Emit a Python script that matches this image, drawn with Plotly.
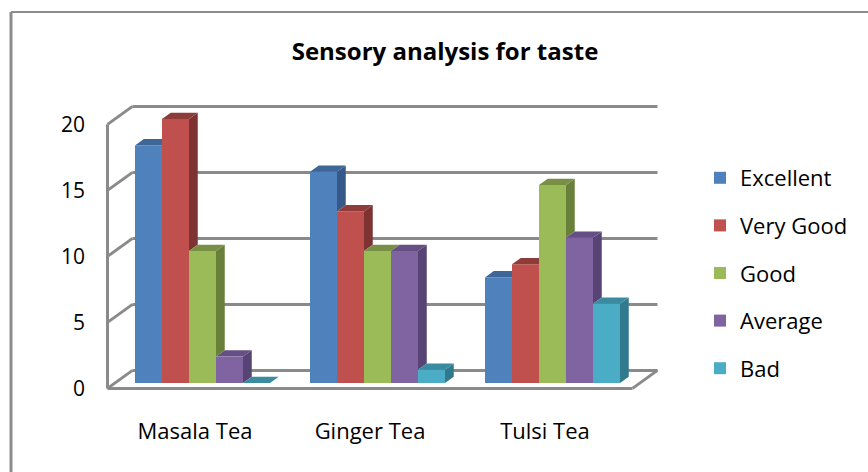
import plotly.graph_objects as go

categories = ["Masala Tea", "Ginger Tea", "Tulsi Tea"]
series_names = ["Excellent", "Very Good", "Good", "Average", "Bad"]
excellent = [18, 16, 8]
very_good = [20, 13, 9]
good = [10, 10, 15]
average = [2, 10, 11]
bad = [0, 1, 6]
y_ticks = [0, 5, 10, 15, 20]

series_values = [excellent, very_good, good, average, bad]
front_colors = ["#4F81BD", "#C0504D", "#9BBB59", "#8064A2", "#4BACC6"]
side_colors = ["#37598A", "#7D3331", "#69803A", "#574474", "#317A8E"]
top_colors = ["#3E6697", "#8E3C3A", "#788F45", "#654F84", "#3A8BA0"]

# pseudo-3D geometry (in data units of the bar front plane)
PX_PER_X = 175.0
PX_PER_Y = 13.2
DX = 25.0 / PX_PER_X          # x shift per unit depth
DY = 18.0 / PX_PER_Y          # y shift per unit depth
D_FRONT = -0.3                # box front relative to bar front plane
D_BACK = 0.7                  # box back relative to bar front plane
BAR_DEPTH = 0.35
BW = 27.0 / PX_PER_X
GROUP_LEFT = -2.5 * BW
X_MIN, X_MAX = -0.5, 2.5

plot_l, plot_r, plot_t, plot_b = 90, 680, 90, 410
PW, PH = plot_r - plot_l, plot_b - plot_t

fig = go.Figure()

# box lines (walls and floor) as shapes below traces
line_style = dict(color="#8A8A8A", width=3)
shapes = []
fx0, fy_off = X_MIN + D_FRONT * DX, D_FRONT * DY
bx_off, by_off = D_BACK * DX, D_BACK * DY
for v in y_ticks:
    # back wall gridline
    shapes.append(dict(type="line", xref="x", yref="y", layer="below",
                       x0=X_MIN + bx_off, y0=v + by_off, x1=X_MAX + bx_off, y1=v + by_off,
                       line=line_style))
    # left wall slant
    shapes.append(dict(type="line", xref="x", yref="y", layer="below",
                       x0=fx0, y0=v + fy_off, x1=X_MIN + bx_off, y1=v + by_off,
                       line=line_style))
# left front vertical edge
shapes.append(dict(type="line", xref="x", yref="y", layer="below",
                   x0=fx0, y0=y_ticks[0] + fy_off, x1=fx0, y1=y_ticks[-1] + fy_off,
                   line=line_style))
# floor front edge
shapes.append(dict(type="line", xref="x", yref="y", layer="below",
                   x0=fx0, y0=fy_off, x1=X_MAX + D_FRONT * DX, y1=fy_off, line=line_style))
# floor right edge
shapes.append(dict(type="line", xref="x", yref="y", layer="below",
                   x0=X_MAX + D_FRONT * DX, y0=fy_off, x1=X_MAX + bx_off, y1=by_off,
                   line=line_style))
# chart border (paper coordinates of the plot area)
bx_left = (11 - plot_l) / PW
by_top = 1 + (plot_t - 12) / PH
shapes.append(dict(type="line", xref="paper", yref="paper", x0=bx_left, y0=by_top,
                   x1=1 + 200 / PW, y1=by_top, line=dict(color="#8C8C8C", width=2)))
shapes.append(dict(type="line", xref="paper", yref="paper", x0=bx_left, y0=by_top,
                   x1=bx_left, y1=-100 / PH, line=dict(color="#8C8C8C", width=3)))

bdx = BAR_DEPTH * DX
bdy = BAR_DEPTH * DY
for k, (name, vals) in enumerate(zip(series_names, series_values)):
    offset = GROUP_LEFT + k * BW
    for i, v in enumerate(vals):
        x0 = i + offset
        x1 = x0 + BW
        nxt = series_values[k + 1][i] if k + 1 < len(series_values) else None
        # side face (visible part)
        if nxt is None:
            sx = [x1, x1 + bdx, x1 + bdx, x1, x1]
            sy = [0, bdy, v + bdy, v, 0]
        elif v > nxt:
            sx = [x1, x1 + bdx, x1 + bdx, x1, x1]
            sy = [nxt, nxt + bdy, v + bdy, v, nxt]
        else:
            sx = sy = None
        if sx is not None:
            fig.add_trace(go.Scatter(x=sx, y=sy, fill="toself", mode="lines",
                                     fillcolor=side_colors[k], line=dict(width=0),
                                     showlegend=False, hoverinfo="skip"))
        # top face
        if nxt is not None and nxt > v:
            tx = [x0, x1, x1, x0 + bdx, x0]
        else:
            tx = [x0, x1, x1 + bdx, x0 + bdx, x0]
        ty = [v, v, v + bdy, v + bdy, v]
        fig.add_trace(go.Scatter(x=tx, y=ty, fill="toself", mode="lines",
                                 fillcolor=top_colors[k], line=dict(width=0),
                                 showlegend=False, hoverinfo="skip"))
    # front faces
    fig.add_trace(go.Bar(x=list(range(len(categories))), y=vals, name=name,
                         width=BW, offset=offset,
                         marker=dict(color=front_colors[k], line=dict(width=0)),
                         legendgroup=name))

FONT = "Open Sans"
x_range = [(plot_l - 202.5) / PX_PER_X, (plot_r - 202.5) / PX_PER_X]
y_range = [(383 - plot_b) / PX_PER_Y, (383 - plot_t) / PX_PER_Y]

fig.update_layout(
    width=868, height=472,
    margin=dict(l=plot_l, r=868 - plot_r, t=plot_t, b=472 - plot_b, pad=0),
    paper_bgcolor="white", plot_bgcolor="rgba(0,0,0,0)",
    barmode="overlay",
    font=dict(family=FONT, size=21, color="black"),
    title=dict(text="<b>Sensory analysis for taste</b>", x=445 / 868, xref="container",
               xanchor="center", y=1 - 52 / 472, yref="container", yanchor="middle",
               font=dict(family=FONT, size=24, color="black")),
    xaxis=dict(range=x_range, showgrid=False, zeroline=False, showline=False,
               tickmode="array", tickvals=[i + D_FRONT * DX for i in range(len(categories))],
               ticktext=categories, ticks="", ticklabelstandoff=6,
               tickfont=dict(family=FONT, size=22)),
    yaxis=dict(range=y_range, showgrid=False, zeroline=False, showline=False,
               tickmode="array", tickvals=[v + D_FRONT * DY for v in y_ticks],
               ticktext=[str(v) for v in y_ticks], ticks="", ticklabelstandoff=4),
    legend=dict(xref="container", yref="container", x=700 / 868, y=1 - 157 / 472,
                xanchor="left", yanchor="top", tracegroupgap=16, maxheight=440,
                font=dict(family=FONT, size=22, color="black"),
                bgcolor="rgba(0,0,0,0)", itemclick=False),
    shapes=shapes,
    showlegend=True,
)

fig.write_html("out.html")
